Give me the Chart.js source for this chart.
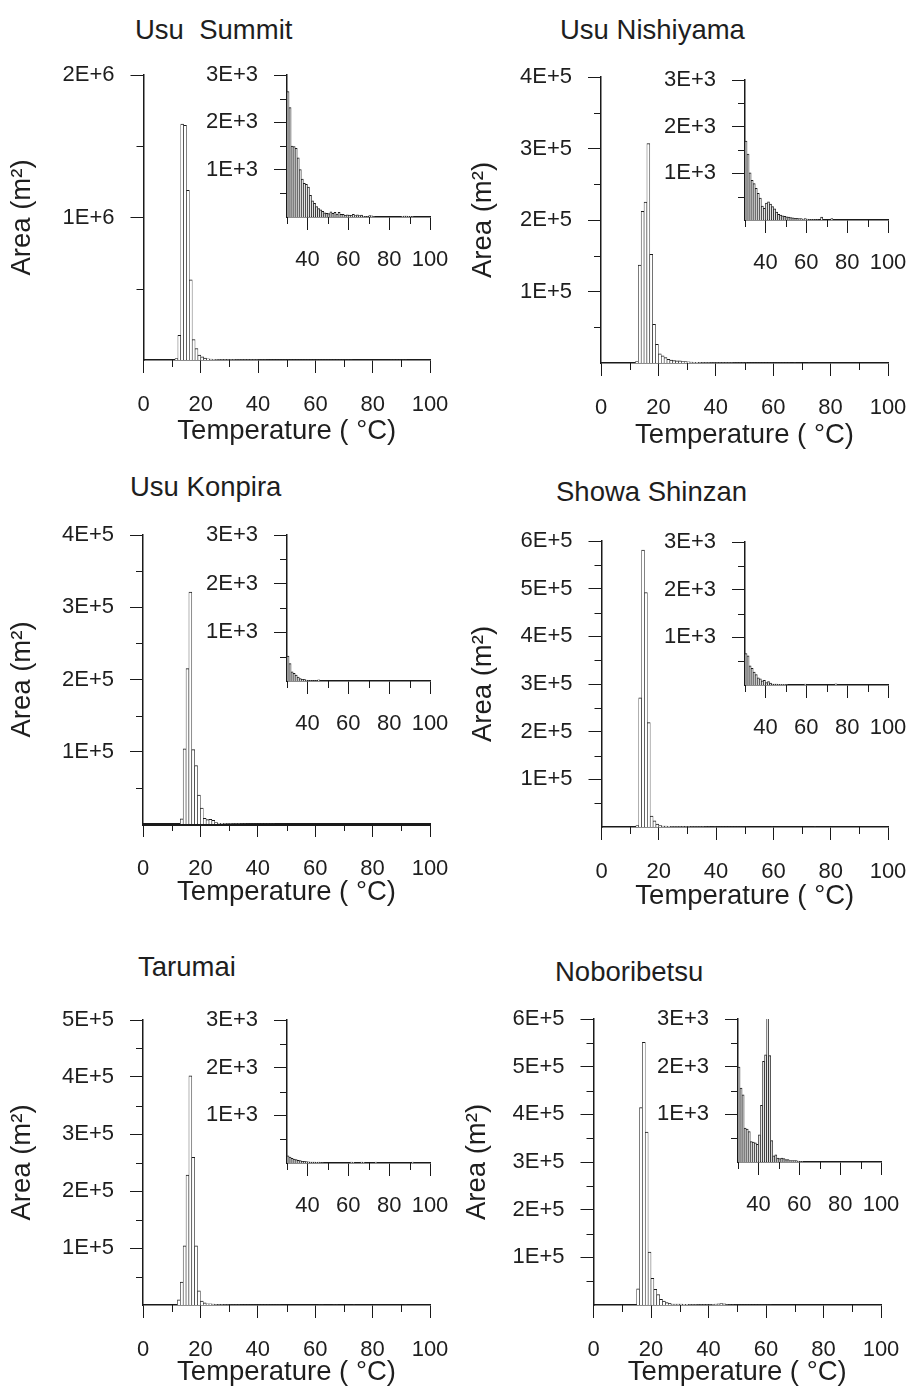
<!DOCTYPE html>
<html><head><meta charset="utf-8">
<script src="https://cdn.jsdelivr.net/npm/chart.js@4.4.1/dist/chart.umd.min.js"></script>
<style>
html,body{margin:0;padding:0;background:#fff;}
body{width:911px;height:1391px;position:relative;overflow:hidden;font-family:"Liberation Sans",Arial,sans-serif;color:#1e1e1e;}
canvas{position:absolute;}
.ttl{position:absolute;font-size:27.5px;line-height:32px;white-space:pre;color:#1e1e1e;}
</style></head><body>
<div class="ttl" style="left:135px;top:14px;">Usu  Summit</div>
<div class="ttl" style="left:560px;top:14px;">Usu Nishiyama</div>
<div class="ttl" style="left:130px;top:471px;">Usu Konpira</div>
<div class="ttl" style="left:556px;top:476px;">Showa Shinzan</div>
<div class="ttl" style="left:138px;top:951px;">Tarumai</div>
<div class="ttl" style="left:555px;top:956px;">Noboribetsu</div>
<script>
// ---------- data (bin centre temperature, °C ; area, m²) ----------
const summitTemp = [11.5,12.5,13.5,14.5,15.5,16.5,17.5,18.5,19.5,20.5,21.5,22.5,23.5,24.5,25.5,26.5,27.5,28.5,29.5];
const summitArea = [10000,174000,1656000,1647000,1190000,563000,144000,81000,35000,23000,14000,9000,7000,5000,4000,3500,3000,2800,2700];
const summitHotTemp = [30.5,31.5,32.5,33.5,34.5,35.5,36.5,37.5,38.5,39.5,40.5,41.5,42.5,43.5,44.5,45.5,46.5,47.5,48.5,49.5,50.5,51.5,52.5,53.5,54.5,55.5,56.5,57.5,58.5,59.5,60.5,61.5,62.5,63.5,64.5,65.5,66.5,67.5,68.5,69.5,70.5,71.5,72.5,86.5,87.5,88.5,89.5,90.5,91.5];
const summitHotArea = [2650,2310,1500,1490,1450,1250,1000,800,710,690,630,460,340,290,220,180,150,120,90,80,70,110,80,100,60,100,55,55,35,45,40,35,55,30,45,30,40,15,10,10,30,25,10,15,20,20,15,15,10];

const nishiTemp = [12.5,13.5,14.5,15.5,16.5,17.5,18.5,19.5,20.5,21.5,22.5,23.5,24.5,25.5,26.5,27.5,28.5,29.5];
const nishiArea = [2000,137000,212000,225000,307000,152000,54000,26000,13000,10000,7500,5000,4000,3500,3000,3000,2000,2000];
const nishiHotTemp = [30.5,31.5,32.5,33.5,34.5,35.5,36.5,37.5,38.5,39.5,40.5,41.5,42.5,43.5,44.5,45.5,46.5,47.5,48.5,49.5,50.5,51.5,52.5,53.5,54.5,55.5,56.5,57.5,58.5,59.5,60.5,61.5,62.5,63.5,64.5,65.5,67.5,72.5];
const nishiHotArea = [1690,1410,1010,850,780,680,570,470,300,250,360,390,340,290,240,170,120,105,90,80,70,60,50,45,35,35,30,30,20,30,20,10,10,10,5,5,60,30];

const konpiraTemp = [13.5,14.5,15.5,16.5,17.5,18.5,19.5,20.5,21.5,22.5,23.5,24.5,25.5,26.5,27.5,28.5,29.5];
const konpiraArea = [7000,104000,215000,321000,103000,81000,40000,22000,8000,6000,6500,5000,2000,1000,1000,800,600];
const konpiraHotTemp = [30.5,31.5,32.5,33.5,34.5,35.5,36.5,37.5,38.5,39.5,40.5,41.5,42.5,43.5,44.5,45.5];
const konpiraHotArea = [510,360,190,160,120,80,50,35,35,20,10,10,5,5,5,25];

const showaTemp = [12.5,13.5,14.5,15.5,16.5,17.5,18.5,19.5,20.5,21.5,22.5,23.5,24.5,25.5,26.5,27.5,28.5,29.5];
const showaArea = [3000,271000,581000,492000,219000,23000,13000,6000,3000,2000,2000,1500,1000,1000,1000,800,700,700];
const showaHotTemp = [30.5,31.5,32.5,33.5,34.5,35.5,36.5,37.5,38.5,39.5,40.5,41.5,42.5,43.5,44.5,45.5,46.5,47.5,48.5,49.5,50.5,59.5,74.5];
const showaHotArea = [660,610,400,350,270,220,150,130,90,100,50,70,40,20,20,20,15,15,15,15,10,20,25];

const tarumaiTemp = [12.5,13.5,14.5,15.5,16.5,17.5,18.5,19.5,20.5,21.5,22.5,23.5,24.5,25.5,26.5,27.5,28.5,29.5];
const tarumaiArea = [9000,40000,104000,228000,402000,259000,104000,25000,7000,4000,2000,2000,1500,1000,800,600,500,400];
const tarumaiHotTemp = [30.5,31.5,32.5,33.5,34.5,35.5,36.5,37.5,38.5,39.5,40.5,41.5,42.5,43.5,44.5,45.5,46.5,47.5,61.5,62.5,66.5,67.5,73.5,91.5];
const tarumaiHotArea = [150,125,100,80,70,55,50,35,35,30,25,20,20,20,15,20,10,5,20,15,20,15,20,20];

const noboTemp = [15.5,16.5,17.5,18.5,19.5,20.5,21.5,22.5,23.5,24.5,25.5,26.5,27.5,28.5,29.5];
const noboArea = [34000,414000,551000,363000,111000,56000,33000,22000,12000,8000,5000,3500,2000,2000,2000];
const noboHotTemp = [30.5,31.5,32.5,33.5,34.5,35.5,36.5,37.5,38.5,39.5,40.5,41.5,42.5,43.5,44.5,45.5,46.5,47.5,48.5,49.5,50.5,51.5,52.5,53.5,54.5,55.5,56.5,57.5,58.5,59.5,60.5,61.5];
const noboHotArea = [1990,1550,1410,710,690,640,430,420,400,370,570,1190,2110,2250,3060,2230,450,130,150,80,70,80,70,50,50,30,30,30,30,20,10,10];

// ---------- tick values ----------
const mainXTicks = [0,20,40,60,80,100];
const mainXMinor = [10,30,50,70,90];
const insetXTicks = [40,60,80,100];
const insetXMinor = [30,50,70,90];
const insetYTicks = [1000,2000,3000];
const insetYMinor = [500,1500,2500];
const summitYTicks = [1000000,2000000];
const summitYMinor = [500000,1500000];
const y4Ticks = [100000,200000,300000,400000];
const y4Minor = [50000,150000,250000,350000];
const y5Ticks = [100000,200000,300000,400000,500000];
const y5Minor = [50000,150000,250000,350000,450000];
const y6Ticks = [100000,200000,300000,400000,500000,600000];
const y6Minor = [50000,150000,250000,350000,450000,550000];

const FAM = '"Liberation Sans", Arial, sans-serif';
const INK = '#1a1a1a';
const TXT = '#1e1e1e';
const PAD_TOP = 32;
const PAD_RIGHT = 40;

const minorTickPlugin = {
  id: 'minorTicks',
  afterDraw(chart, args, opts) {
    const ctx = chart.ctx, ca = chart.chartArea;
    const xs = chart.scales.x, ys = chart.scales.y;
    ctx.save();
    ctx.strokeStyle = INK; ctx.lineWidth = 1;
    ctx.beginPath();
    (opts.x || []).forEach(v => {
      const px = Math.round(xs.getPixelForValue(v)) + 0.5;
      ctx.moveTo(px, ca.bottom); ctx.lineTo(px, ca.bottom + opts.len);
    });
    (opts.y || []).forEach(v => {
      const py = Math.round(ys.getPixelForValue(v)) + 0.5;
      ctx.moveTo(ca.left, py); ctx.lineTo(ca.left - opts.len, py);
    });
    ctx.stroke();
    ctx.restore();
  }
};

function sci(v) {
  if (!v) return '';
  const e = Math.floor(Math.log10(v) + 1e-9);
  const m = Math.round(v / Math.pow(10, e));
  return m + 'E+' + e;
}

function makeHist(c) {
  const cv = document.createElement('canvas');
  cv.width = c.w; cv.height = c.h;
  cv.style.left = c.left + 'px'; cv.style.top = c.top + 'px';
  cv.style.width = c.w + 'px'; cv.style.height = c.h + 'px';
  document.body.appendChild(cv);
  const pts = c.temps.map((t, i) => ({x: t, y: c.areas[i]}));
  new Chart(cv, {
    type: 'bar',
    data: {datasets: [{
      data: pts,
      backgroundColor: c.fill,
      borderColor: INK,
      borderWidth: c.bw,
      borderSkipped: 'start',
      barPercentage: 1,
      categoryPercentage: 1
    }]},
    options: {
      responsive: false, maintainAspectRatio: false, animation: false, devicePixelRatio: 1,
      layout: {padding: {top: PAD_TOP, right: PAD_RIGHT, left: 0, bottom: 0}},
      plugins: {
        legend: {display: false}, tooltip: {enabled: false},
        minorTicks: {x: c.xMinor, y: c.yMinor, len: 7}
      },
      scales: {
        x: {
          type: 'linear', min: c.xMin, max: c.xMax, offset: false,
          afterBuildTicks: s => { s.ticks = c.xTicks.map(v => ({value: v})); },
          afterFit: s => { s.height = c.hx; },
          grid: {display: true, drawOnChartArea: false, drawTicks: true, tickLength: 13, tickColor: INK, tickWidth: 1, offset: false},
          border: {display: true, color: INK, width: c.xBorder || 1.5},
          ticks: {font: {size: 22, family: FAM}, color: TXT, padding: c.xPad, maxRotation: 0, autoSkip: false, callback: v => String(v)},
          title: c.xTitle ? {display: true, text: 'Temperature ( °C)', font: {size: 27.5, family: FAM}, color: TXT, padding: 0} : {display: false}
        },
        y: {
          type: 'linear', min: 0, max: c.yMax,
          afterBuildTicks: s => { s.ticks = c.yTicks.map(v => ({value: v})); },
          afterFit: s => { s.width = c.wy; },
          grid: {display: true, drawOnChartArea: false, drawTicks: true, tickLength: 13, tickColor: INK, tickWidth: 1},
          border: {display: true, color: INK, width: 1.5},
          ticks: {font: {size: 22, family: FAM}, color: TXT, padding: 16, autoSkip: false, callback: v => sci(v)},
          title: c.yTitle ? {display: true, text: 'Area (m²)', font: {size: 27.5, family: FAM}, color: TXT, padding: {top: c.yTitlePad, bottom: 0}} : {display: false}
        }
      }
    },
    plugins: [minorTickPlugin]
  });
}

const mainBW = {left: 0.6, right: 0.6, top: 1};
const insetBW = {left: 0.7, right: 0.7, top: 1};

function mainPanel(o) {
  makeHist(Object.assign({
    xMin: 0, xMax: 100, xTicks: mainXTicks, xMinor: mainXMinor,
    xTitle: true, yTitle: true, xPad: 19, bw: mainBW, fill: '#ffffff'
  }, o));
}
function insetPanel(o) {
  makeHist(Object.assign({
    xMin: 30, xMax: 100, xTicks: insetXTicks, xMinor: insetXMinor,
    yMax: 3000, yTicks: insetYTicks, yMinor: insetYMinor,
    xTitle: false, yTitle: false, xPad: 17, bw: insetBW, wy: 85, hx: 60, fill: '#e2e2e2'
  }, o));
}

// main panels (canvas top = chart top - PAD_TOP ; width = chart right - left + PAD_RIGHT)
mainPanel({left: 0, top: 43, w: 470, h: 405, wy: 143.5, hx: 88, yMax: 2000000, yTicks: summitYTicks, yMinor: summitYMinor, yTitlePad: 5.8,
  temps: summitTemp.concat(summitHotTemp), areas: summitArea.concat(summitHotArea)});
mainPanel({left: 455, top: 45, w: 473, h: 407, wy: 146, hx: 89, yMax: 400000, yTicks: y4Ticks, yMinor: y4Minor, yTitlePad: 11.8,
  temps: nishiTemp.concat(nishiHotTemp), areas: nishiArea.concat(nishiHotArea)});
mainPanel({left: 0, top: 503, w: 470, h: 406, wy: 143, hx: 85, yMax: 400000, yTicks: y4Ticks, yMinor: y4Minor, yTitlePad: 5.8, xBorder: 3,
  temps: konpiraTemp.concat(konpiraHotTemp), areas: konpiraArea.concat(konpiraHotArea)});
mainPanel({left: 455, top: 509, w: 473, h: 404, wy: 146.5, hx: 86, yMax: 600000, yTicks: y6Ticks, yMinor: y6Minor, yTitlePad: 11.8,
  temps: showaTemp.concat(showaHotTemp), areas: showaArea.concat(showaHotArea)});
mainPanel({left: 0, top: 988, w: 470, h: 401, wy: 143, hx: 84, yMax: 500000, yTicks: y5Ticks, yMinor: y5Minor, yTitlePad: 5.8,
  temps: tarumaiTemp.concat(tarumaiHotTemp), areas: tarumaiArea.concat(tarumaiHotArea)});
mainPanel({left: 455, top: 987, w: 466, h: 402, wy: 138.5, hx: 84, yMax: 600000, yTicks: y6Ticks, yMinor: y6Minor, yTitlePad: 5.8,
  temps: noboTemp.concat(noboHotTemp), areas: noboArea.concat(noboHotArea)});

// insets (> 30 °C)
insetPanel({left: 202, top: 43, w: 268, h: 234, temps: summitHotTemp, areas: summitHotArea});
insetPanel({left: 660, top: 48, w: 268, h: 232, temps: nishiHotTemp, areas: nishiHotArea});
insetPanel({left: 202, top: 503, w: 268, h: 238, temps: konpiraHotTemp, areas: konpiraHotArea});
insetPanel({left: 660, top: 510, w: 268, h: 235, temps: showaHotTemp, areas: showaHotArea});
insetPanel({left: 202, top: 988, w: 268, h: 235, temps: tarumaiHotTemp, areas: tarumaiHotArea});
insetPanel({left: 653, top: 987, w: 268, h: 235, temps: noboHotTemp, areas: noboHotArea});
</script>
</body></html>
